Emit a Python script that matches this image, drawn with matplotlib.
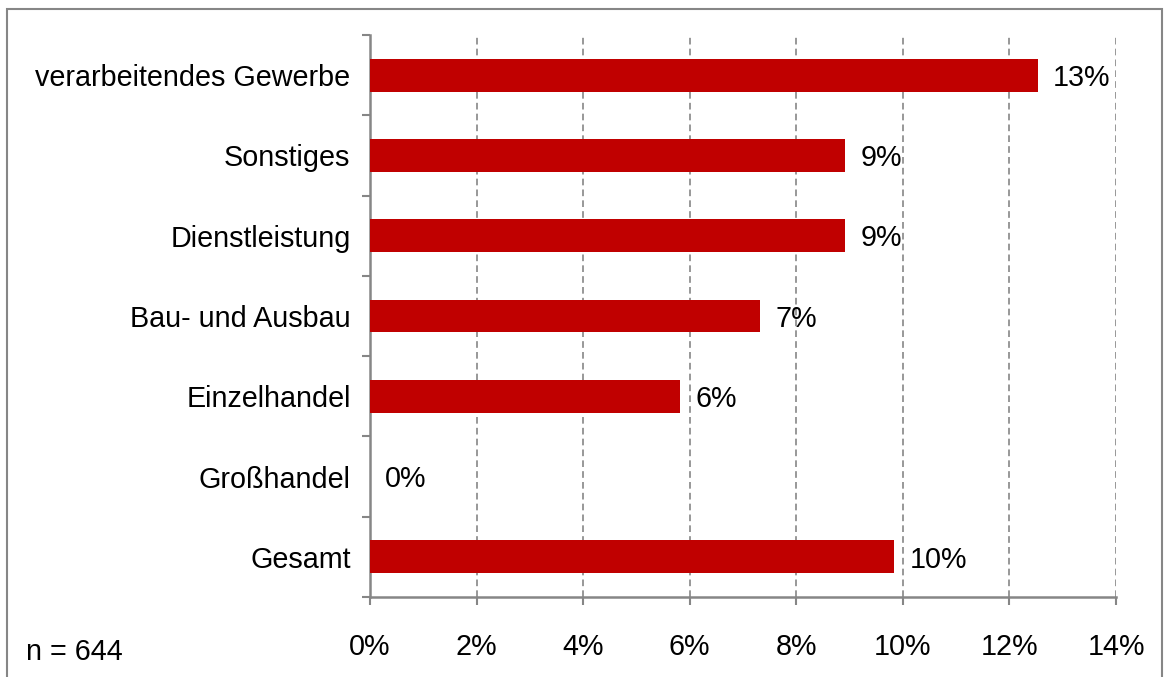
import matplotlib.pyplot as plt
import matplotlib.patches as patches
import numpy as np

plt.rcParams['font.family'] = ['Liberation Sans', 'DejaVu Sans']

# daten
categories = ["verarbeitendes Gewerbe", "Sonstiges", "Dienstleistung",
              "Bau- und Ausbau", "Einzelhandel", "Großhandel", "Gesamt"]
values = [12.53, 8.92, 8.92, 7.32, 5.82, 0.0, 9.84]
xticks = [0, 2, 4, 6, 8, 10, 12, 14]
n_text = "n = 644"

grey = "#868686"
fs = 20.7

fig = plt.figure(figsize=(11.69, 6.77), dpi=100)
ax = fig.add_axes([0.3165, 0.1182, 0.9547 - 0.3165, 0.9483 - 0.1182])

y = np.arange(len(categories))[::-1]
ax.barh(y, values, height=0.41, color="#C00000", zorder=3)

for yi, v in zip(y, values):
    ax.annotate(f"{v:.0f}%", xy=(v, yi), xytext=(11, -2), textcoords="offset points",
                va="center", ha="left", fontsize=fs)

ax.set_xlim(0, 14)
ax.set_ylim(-0.5, len(categories) - 0.5)
ax.set_xticks(xticks)
ax.set_xticklabels([f"{t}%" for t in xticks], fontsize=fs)
ax.set_yticks(y)
ax.set_yticklabels(categories, fontsize=fs)
ax.set_yticks(np.arange(-0.5, len(categories), 1), minor=True)

ax.tick_params(axis="y", which="major", length=0, pad=14)
ax.tick_params(axis="y", which="minor", length=6, width=1.5, color=grey, direction="out")
ax.tick_params(axis="x", length=6, width=1.5, color=grey, direction="out", pad=20)

ax.xaxis.grid(True, linestyle=(0, (4, 2.5)), color=grey, linewidth=1.2, zorder=0)
for s in ["top", "right"]:
    ax.spines[s].set_visible(False)
for s in ["left", "bottom"]:
    ax.spines[s].set_color(grey)
    ax.spines[s].set_linewidth(1.8)

fig.text(26 / 1169, 1 - 652 / 677, n_text, fontsize=fs, va="center", ha="left")

# rahmen
rect = patches.Rectangle((7 / 1169, -0.02), (1162 - 7) / 1169, 1 - 8.5 / 677 + 0.02,
                         transform=fig.transFigure, fill=False, edgecolor=grey,
                         linewidth=1.5)
fig.patches.append(rect)

fig.savefig("out.png", dpi=100)
